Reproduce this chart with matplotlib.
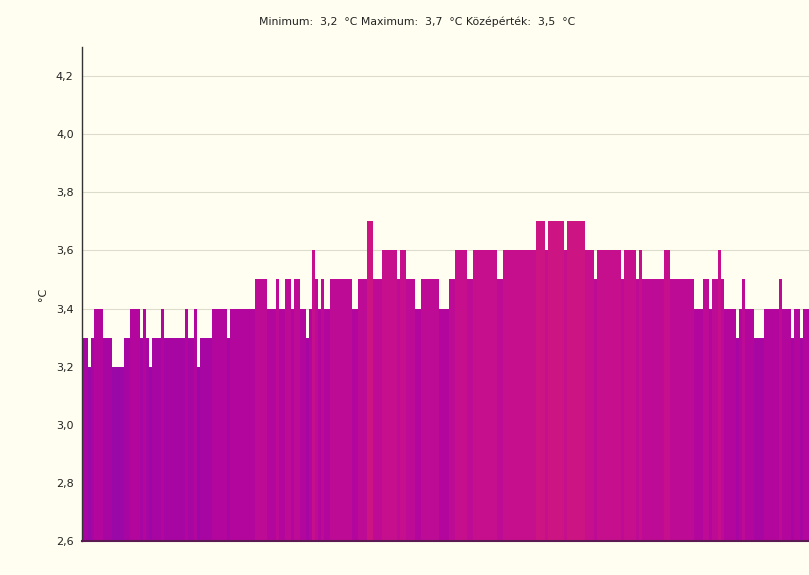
import numpy as np
import matplotlib
matplotlib.use("Agg")
import matplotlib.pyplot as plt
from matplotlib.colors import LinearSegmentedColormap, Normalize

# Temperature readings (°C), one per bar
temps = [
    3.3, 3.3, 3.2, 3.3, 3.4, 3.4, 3.4, 3.3, 3.3, 3.3,
    3.2, 3.2, 3.2, 3.2, 3.3, 3.3, 3.4, 3.4, 3.4, 3.3,
    3.4, 3.3, 3.2, 3.3, 3.3, 3.3, 3.4, 3.3, 3.3, 3.3,
    3.3, 3.3, 3.3, 3.3, 3.4, 3.3, 3.3, 3.4, 3.2, 3.3,
    3.3, 3.3, 3.3, 3.4, 3.4, 3.4, 3.4, 3.4, 3.3, 3.4,
    3.4, 3.4, 3.4, 3.4, 3.4, 3.4, 3.4, 3.5, 3.5, 3.5,
    3.5, 3.4, 3.4, 3.4, 3.5, 3.4, 3.4, 3.5, 3.5, 3.4,
    3.5, 3.5, 3.4, 3.4, 3.3, 3.4, 3.6, 3.5, 3.4, 3.5,
    3.4, 3.4, 3.5, 3.5, 3.5, 3.5, 3.5, 3.5, 3.5, 3.4,
    3.4, 3.5, 3.5, 3.5, 3.7, 3.7, 3.5, 3.5, 3.5, 3.6,
    3.6, 3.6, 3.6, 3.6, 3.5, 3.6, 3.6, 3.5, 3.5, 3.5,
    3.4, 3.4, 3.5, 3.5, 3.5, 3.5, 3.5, 3.5, 3.4, 3.4,
    3.4, 3.5, 3.5, 3.6, 3.6, 3.6, 3.6, 3.5, 3.5, 3.6,
    3.6, 3.6, 3.6, 3.6, 3.6, 3.6, 3.6, 3.5, 3.5, 3.6,
    3.6, 3.6, 3.6, 3.6, 3.6, 3.6, 3.6, 3.6, 3.6, 3.6,
    3.7, 3.7, 3.7, 3.6, 3.7, 3.7, 3.7, 3.7, 3.7, 3.6,
    3.7, 3.7, 3.7, 3.7, 3.7, 3.7, 3.6, 3.6, 3.6, 3.5,
    3.6, 3.6, 3.6, 3.6, 3.6, 3.6, 3.6, 3.6, 3.5, 3.6,
    3.6, 3.6, 3.6, 3.5, 3.6, 3.5, 3.5, 3.5, 3.5, 3.5,
    3.5, 3.5, 3.6, 3.6, 3.5, 3.5, 3.5, 3.5, 3.5, 3.5,
    3.5, 3.5, 3.4, 3.4, 3.4, 3.5, 3.5, 3.4, 3.5, 3.5,
    3.6, 3.5, 3.4, 3.4, 3.4, 3.4, 3.3, 3.4, 3.5, 3.4,
    3.4, 3.4, 3.3, 3.3, 3.3, 3.4, 3.4, 3.4, 3.4, 3.4,
    3.5, 3.4, 3.4, 3.4, 3.3, 3.4, 3.4, 3.3, 3.4, 3.4,
]
y_ticks = [2.6, 2.8, 3.0, 3.2, 3.4, 3.6, 3.8, 4.0, 4.2]
y_tick_labels = ["2,6", "2,8", "3,0", "3,2", "3,4", "3,6", "3,8", "4,0", "4,2"]
title_text = "Minimum:  3,2  °C Maximum:  3,7  °C Középérték:  3,5  °C"
y_label = "°C"

bg = "#fffef0"
fig = plt.figure(figsize=(8.09, 5.75), dpi=100, facecolor=bg)
ax = fig.add_axes([82 / 809, 1 - 541 / 575, 1 - 82 / 809, (541 - 47) / 575])
ax.set_facecolor(bg)

cmap = LinearSegmentedColormap.from_list("tc", ["#9a08a8", "#b0059f", "#c00c92", "#cc1482"])
norm = Normalize(vmin=3.2, vmax=3.7)
x = np.arange(len(temps))
base = 2.6
heights = np.array(temps) - base
ax.bar(x, heights, bottom=base, width=1.0, align="edge",
       color=cmap(norm(np.array(temps))), linewidth=0, zorder=2)

ax.set_xlim(0, len(temps))
ax.set_ylim(2.6, 4.3)
ax.set_yticks(y_ticks)
ax.set_yticklabels(y_tick_labels)
ax.set_xticks([])
ax.tick_params(axis="y", length=0, pad=6, labelsize=8, labelcolor="#222222")
ax.grid(axis="y", color="#dcdccc", linewidth=0.8, zorder=0)

for s in ["top", "right"]:
    ax.spines[s].set_visible(False)
ax.spines["left"].set_color("#333333")
ax.spines["left"].set_linewidth(1.0)
ax.spines["bottom"].set_color("#5c1a52")
ax.spines["bottom"].set_linewidth(1.5)
ax.spines["bottom"].set_zorder(3)

ax.set_ylabel(y_label, fontsize=8, color="#222222", labelpad=6)

fig.text(417 / 809, 1 - 22 / 575, title_text, ha="center", va="center",
         fontsize=7.8, color="#222222")

fig.savefig("out.png", dpi=100, facecolor=bg)
